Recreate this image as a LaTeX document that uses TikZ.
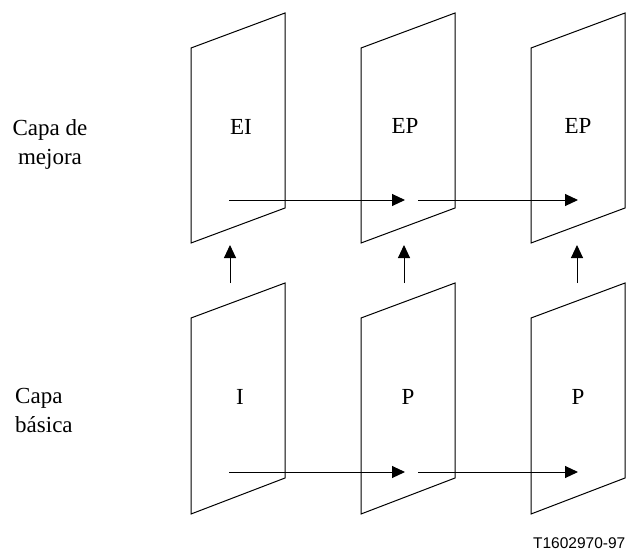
\documentclass[tikz,border=0pt]{standalone}
\usepackage{fontspec}
\setmainfont{Liberation Serif}
\newfontfamily\labelsans{Liberation Sans}
\usetikzlibrary{arrows.meta}
\begin{document}
\begin{tikzpicture}[x=1pt,y=-1pt,
  frame/.style={draw,line width=1pt,line join=miter},
  flow/.style={draw,line width=1pt,-{Triangle[length=13pt,width=12pt]}},
  lbl/.style={font=\fontsize{23}{29}\selectfont,inner sep=0pt},
  side/.style={font=\fontsize{23}{29}\selectfont,inner sep=0pt}]
\useasboundingbox (0,0) rectangle (626,552);
% picture frames
\foreach \x in {191,361,531}{
  \draw[frame] (\x,48) -- (\x,243) -- (\x+94,208) -- (\x+94,13) -- cycle;
  \draw[frame] (\x,318) -- (\x,514) -- (\x+94,478) -- (\x+94,283) -- cycle;
}
% frame labels
\node[lbl] (ei)  at (241,127) {EI};
\node[lbl] (ep1) at (405,126) {EP};
\node[lbl] (ep2) at (578,126) {EP};
\node[lbl] (i)   at (240,397) {I};
\node[lbl] (p1)  at (408,397) {P};
\node[lbl] (p2)  at (578,397) {P};
% layer labels
\node[side,align=center] (mej) at (50,144) {Capa de\\mejora};
\node[side,align=left,anchor=west] (bas) at (15,410) {Capa\\básica};
% connector end points
\coordinate (ts1) at (229,200); \coordinate (te1) at (405,200);
\coordinate (ts2) at (418,200); \coordinate (te2) at (578,200);
\coordinate (bs1) at (229,472); \coordinate (be1) at (405,472);
\coordinate (bs2) at (418,472); \coordinate (be2) at (578,472);
\coordinate (us1) at (230,283); \coordinate (ue1) at (230,245);
\coordinate (us2) at (404,283); \coordinate (ue2) at (404,245);
\coordinate (us3) at (577,283); \coordinate (ue3) at (577,245);
% connectors
\draw[flow] (ts1) -- (te1);
\draw[flow] (ts2) -- (te2);
\draw[flow] (bs1) -- (be1);
\draw[flow] (bs2) -- (be2);
\draw[flow] (us1) -- (ue1);
\draw[flow] (us2) -- (ue2);
\draw[flow] (us3) -- (ue3);
% figure code
\node[font=\labelsans\fontsize{15.5}{18}\selectfont,inner sep=0pt,anchor=east] (code) at (625.5,543) {T1602970-97};
\end{tikzpicture}
\end{document}
